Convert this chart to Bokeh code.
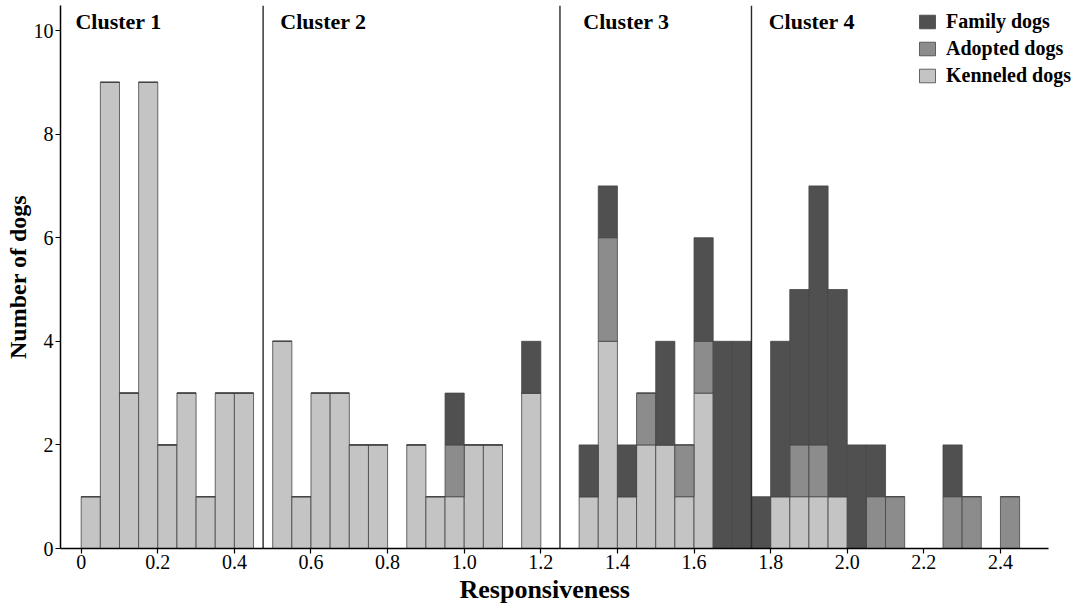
from bokeh.plotting import figure
from bokeh.models import ColumnDataSource, Legend, LegendItem, FixedTicker, Range1d, Title
from bokeh.core.properties import value
from bokeh.embed import file_html
from bokeh.resources import INLINE

# ---- data ----
bin_left = [0.00, 0.05, 0.10, 0.15, 0.20, 0.25, 0.30, 0.35, 0.40, 0.45,
            0.50, 0.55, 0.60, 0.65, 0.70, 0.75, 0.80, 0.85, 0.90, 0.95,
            1.00, 1.05, 1.10, 1.15, 1.20, 1.25, 1.30, 1.35, 1.40, 1.45,
            1.50, 1.55, 1.60, 1.65, 1.70, 1.75, 1.80, 1.85, 1.90, 1.95,
            2.00, 2.05, 2.10, 2.15, 2.20, 2.25, 2.30, 2.35, 2.40]
kenneled = [1, 9, 3, 9, 2, 3, 1, 3, 3, 0,
            4, 1, 3, 3, 2, 2, 0, 2, 1, 1,
            2, 2, 0, 3, 0, 0, 1, 4, 1, 2,
            2, 1, 3, 0, 0, 0, 1, 1, 1, 1,
            0, 0, 0, 0, 0, 0, 0, 0, 0]
adopted = [0, 0, 0, 0, 0, 0, 0, 0, 0, 0,
           0, 0, 0, 0, 0, 0, 0, 0, 0, 1,
           0, 0, 0, 0, 0, 0, 0, 2, 0, 1,
           0, 1, 1, 0, 0, 0, 0, 1, 1, 0,
           0, 1, 1, 0, 0, 1, 1, 0, 1]
family = [0, 0, 0, 0, 0, 0, 0, 0, 0, 0,
          0, 0, 0, 0, 0, 0, 0, 0, 0, 1,
          0, 0, 0, 1, 0, 0, 1, 1, 1, 0,
          2, 0, 2, 4, 4, 1, 3, 3, 5, 4,
          2, 1, 0, 0, 0, 1, 0, 0, 0]
bin_width = 0.05
series_names = ["Kenneled dogs", "Adopted dogs", "Family dogs"]
cluster_bounds = [0.475, 1.25, 1.75]
cluster_names = ["Cluster 1", "Cluster 2", "Cluster 3", "Cluster 4"]
x_ticks = [0, 0.2, 0.4, 0.6, 0.8, 1.0, 1.2, 1.4, 1.6, 1.8, 2.0, 2.2, 2.4]
x_tick_labels = ["0", "0.2", "0.4", "0.6", "0.8", "1.0", "1.2", "1.4", "1.6", "1.8", "2.0", "2.2", "2.4"]
y_ticks = [0, 2, 4, 6, 8, 10]

# ---- styling ----
FONT = "Liberation Serif"
colors = ["#c4c4c4", "#8c8c8c", "#505050"]
X_START, X_AXIS_END, X_END = -0.054, 2.526, 2.609
Y_TOP = 10.483

src = ColumnDataSource(dict(
    x=[b + bin_width / 2 for b in bin_left],
    k=kenneled, a=adopted, f=family,
))

p = figure(width=1080, height=608, output_backend="svg", toolbar_location=None,
           x_range=Range1d(X_START, X_END), y_range=Range1d(0, Y_TOP),
           min_border_left=60, min_border_right=0, min_border_top=5, min_border_bottom=60)
p.outline_line_color = None
p.xgrid.visible = False
p.ygrid.visible = False
p.background_fill_color = "white"

rends = p.vbar_stack(["k", "a", "f"], x="x", width=bin_width, source=src,
                     fill_color=colors, line_color="#454545", line_width=0.8)

# cluster boundaries
p.segment(x0=cluster_bounds, x1=cluster_bounds, y0=[0] * 3, y1=[Y_TOP] * 3,
          line_color="#2a2a2a", line_width=1.4)

label_x = [-0.015, 0.520, 1.311, 1.795]
p.text(x=label_x, y=[10.174] * 4, text=cluster_names,
       text_font=value(FONT), text_font_style="bold", text_font_size="22px",
       text_color="black", text_baseline="alphabetic", text_align="left")

# axes
for ax in (p.xaxis[0], p.yaxis[0]):
    ax.axis_line_color = "black"
    ax.axis_line_width = 1.5
    ax.major_tick_line_color = "black"
    ax.major_tick_line_width = 1.2
    ax.major_tick_in = 0
    ax.major_tick_out = 5
    ax.minor_tick_line_color = None
    ax.major_label_text_font = FONT
    ax.major_label_text_font_size = "20px"
    ax.major_label_text_color = "black"
    ax.axis_label_text_font = FONT
    ax.axis_label_text_font_style = "bold"
    ax.axis_label_text_color = "black"

p.xaxis.ticker = FixedTicker(ticks=x_ticks)
p.xaxis.major_label_overrides = {t: l for t, l in zip(x_ticks, x_tick_labels)}
p.xaxis.bounds = (X_START, X_AXIS_END)
p.yaxis.ticker = FixedTicker(ticks=y_ticks)
p.yaxis.axis_label = "Number of dogs"
p.yaxis.axis_label_text_font_size = "24px"
p.xaxis.major_label_standoff = 1
p.yaxis.major_label_standoff = 2
p.yaxis.axis_label_standoff = 0

xtitle = Title(text="Responsiveness", align="left", offset=399, standoff=2,
               text_font=FONT, text_font_style="bold", text_font_size="26px",
               text_color="black")
p.add_layout(xtitle, "below")

legend = Legend(items=[LegendItem(label=series_names[2], renderers=[rends[2]]),
                       LegendItem(label=series_names[1], renderers=[rends[1]]),
                       LegendItem(label=series_names[0], renderers=[rends[0]])],
                location=(857, 461))
legend.margin = 0
legend.padding = 0
legend.spacing = 4
legend.glyph_width = 20
legend.glyph_height = 17
legend.label_height = 22
legend.label_standoff = 9
legend.label_text_font = FONT
legend.label_text_font_style = "bold"
legend.label_text_font_size = "20px"
legend.label_text_color = "black"
legend.border_line_alpha = 0
legend.background_fill_alpha = 0
p.add_layout(legend)

open("out.html", "w").write(file_html(p, INLINE))
